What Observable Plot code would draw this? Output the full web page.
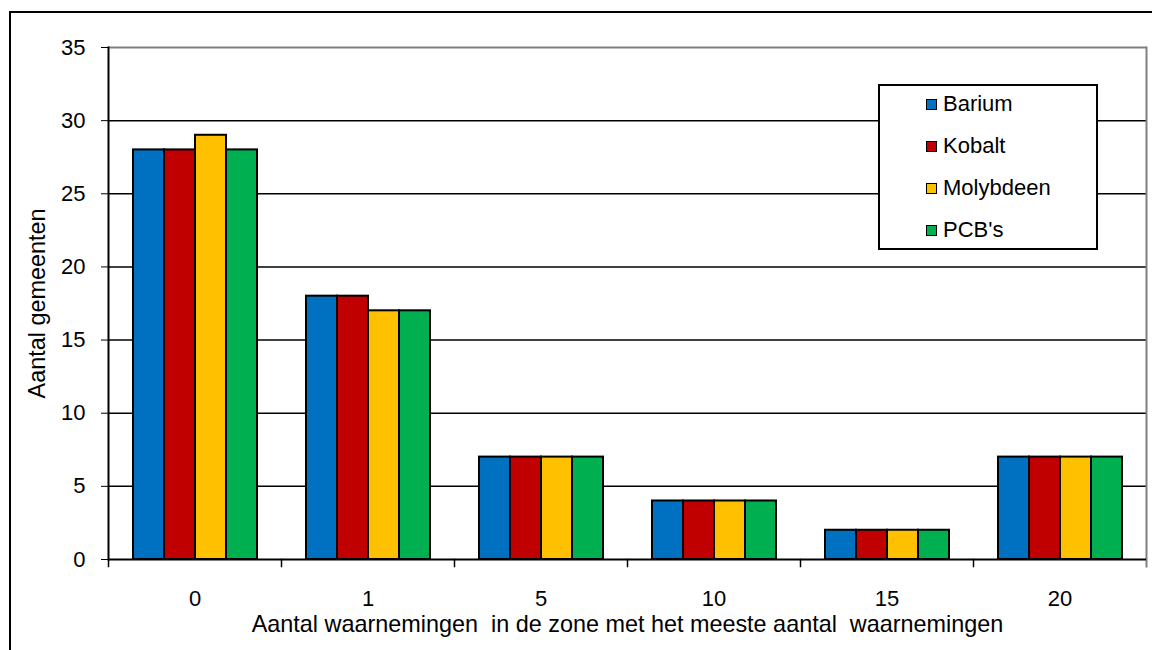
<!DOCTYPE html>
<html>
<head>
<meta charset="utf-8">
<script src="https://cdn.jsdelivr.net/npm/d3@7"></script>
<script src="https://cdn.jsdelivr.net/npm/@observablehq/plot@0.6"></script>
<style>
  html, body { margin: 0; padding: 0; background: #fff; }
  #wrap { position: relative; width: 1152px; height: 650px; overflow: hidden; font-family: "Liberation Sans", Arial, sans-serif; }
  #outer { position: absolute; left: 9px; top: 11px; width: 2000px; height: 2000px; border: 2px solid #000; pointer-events: none; }
  #legend { position: absolute; left: 878px; top: 84px; width: 220px; height: 166px; box-sizing: border-box; border: 2px solid #000; background: #fff; }
  #legend .inner { position: relative; top: -3px; }
  .item { display: flex; align-items: center; height: 42px; padding-left: 46px; font-size: 22px; color: #000; }
  .sw { width: 9px; height: 9px; border: 1px solid #000; margin-right: 6px; }
  g[aria-label="fx-axis label"], g[aria-label="y-axis label"] { font-size: 23.4px; }
</style>
</head>
<body>
<div id="wrap"><div id="outer"></div></div>
<script>
const categories = ["0", "1", "5", "10", "15", "20"];
const series = ["Barium", "Kobalt", "Molybdeen", "PCB's"];
const colors = ["#0070C0", "#C00000", "#FFC000", "#00B050"];
const barium    = [28, 18, 7, 4, 2, 7];
const kobalt    = [28, 18, 7, 4, 2, 7];
const molybdeen = [29, 17, 7, 4, 2, 7];
const pcbs      = [28, 17, 7, 4, 2, 7];
const yTicks = [0, 5, 10, 15, 20, 25, 30, 35];
const xTitle = "Aantal waarnemingen\u00a0 in de zone met het meeste aantal\u00a0 waarnemingen";
const yTitle = "Aantal gemeenten";

const valuesBySeries = [barium, kobalt, molybdeen, pcbs];
const data = [];
categories.forEach((c, i) => series.forEach((s, j) => data.push({cat: c, series: s, value: valuesBySeries[j][i]})));

const chart = Plot.plot({
  width: 1152,
  height: 650,
  marginLeft: 106,
  marginRight: 4,
  marginTop: 47,
  marginBottom: 91,
  style: {fontFamily: "'Liberation Sans', Arial, sans-serif", fontSize: "22px", color: "#000", background: "#fff"},
  fx: {domain: categories, padding: 0, tickSize: 0, tickPadding: 31, label: xTitle, labelAnchor: "center", labelOffset: 72, labelArrow: "none"},
  x: {domain: series, paddingInner: 0, paddingOuter: 0.735, axis: null},
  y: {domain: [0, 35], ticks: yTicks, tickSize: 7, tickPadding: 16, label: yTitle, labelAnchor: "center", labelOffset: 80, labelArrow: "none"},
  color: {domain: series, range: colors},
  marks: [
    Plot.ruleY(yTicks.filter(t => t > 0 && t < 35), {stroke: "#000", strokeWidth: 1.5}),
    Plot.ruleY([35], {stroke: "#808080", strokeWidth: 2}),
    Plot.frame({anchor: "left", stroke: "#000", strokeWidth: 1.5, insetTop: 512, insetBottom: -7}),
    Plot.frame({anchor: "right", fx: ["20"], stroke: "#808080", strokeWidth: 2, insetBottom: -7}),
    Plot.frame({anchor: "left", fx: ["0"], stroke: "#000", strokeWidth: 2}),
    Plot.barY(data, {fx: "cat", x: "series", y: "value", fill: "series", stroke: "#000", strokeWidth: 2}),
    Plot.ruleY([0], {stroke: "#000", strokeWidth: 2})
  ]
});
document.getElementById("wrap").prepend(chart);

const legend = document.createElement("div");
legend.id = "legend";
const inner = document.createElement("div");
inner.className = "inner";
series.forEach((s, j) => {
  const item = document.createElement("div");
  item.className = "item";
  const sw = document.createElement("span");
  sw.className = "sw";
  sw.style.background = colors[j];
  const t = document.createElement("span");
  t.textContent = s;
  item.append(sw, t);
  inner.append(item);
});
legend.append(inner);
document.getElementById("wrap").append(legend);
</script>
</body>
</html>
